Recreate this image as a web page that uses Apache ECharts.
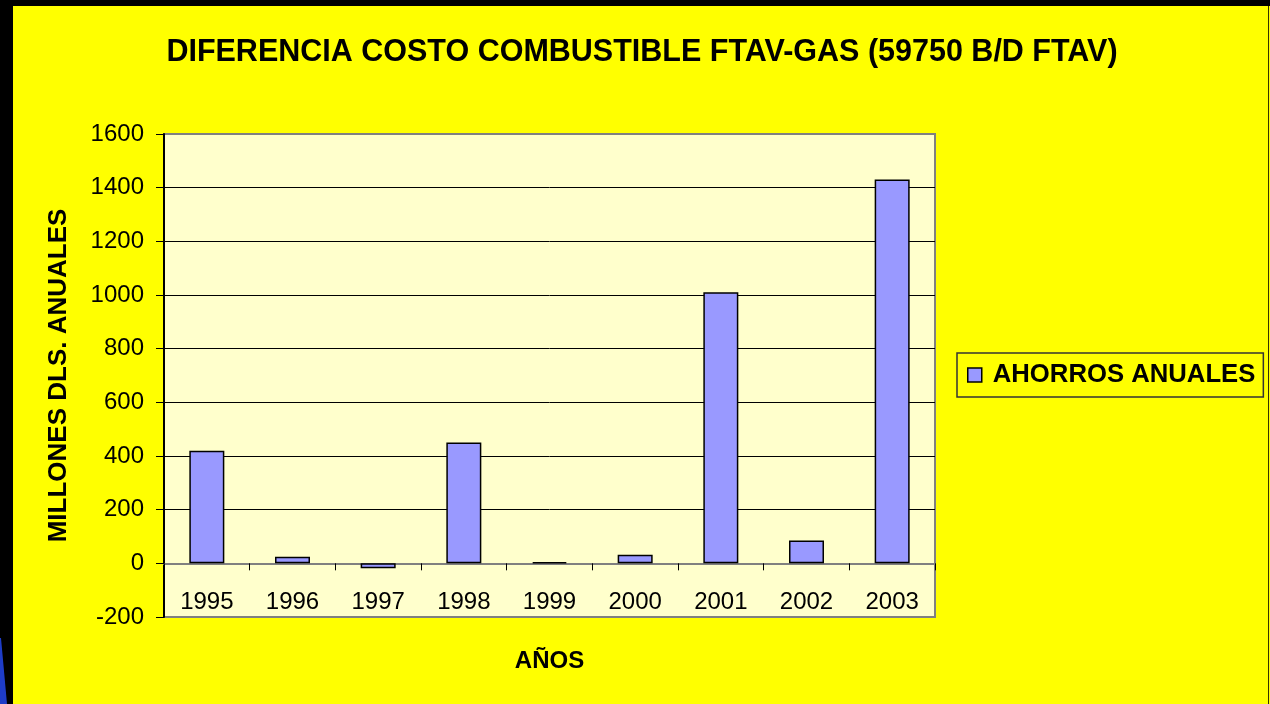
<!DOCTYPE html>
<html>
<head>
<meta charset="utf-8">
<script src="https://cdn.jsdelivr.net/npm/echarts@6/dist/echarts.min.js"></script>
<style>html,body{margin:0;padding:0;background:#000;}#c{width:1270px;height:704px;}</style>
</head>
<body>
<div id="c"></div>
<script>
const titleText = 'DIFERENCIA COSTO COMBUSTIBLE FTAV-GAS (59750 B/D FTAV)';
const years = ['1995', '1996', '1997', '1998', '1999', '2000', '2001', '2002', '2003'];
const ahorrosAnuales = [420, 25, -18, 450, 5, 32, 1010, 85, 1430];
const seriesName = 'AHORROS ANUALES';
const yAxisName = 'MILLONES DLS. ANUALES';
const xAxisName = 'AÑOS';

const FONT = "'Liberation Sans', Arial, sans-serif";
const chart = echarts.init(document.getElementById('c'), null, {renderer: 'canvas'});
chart.setOption({
  backgroundColor: '#000000',
  animation: false,
  graphic: [
    {type: 'rect', z: -10, shape: {x: 13, y: 6, width: 1257, height: 698}, style: {fill: '#FFFF00'}},
    {type: 'rect', z: -9, shape: {x: 1268, y: 6, width: 1, height: 698}, style: {fill: '#333300'}},
    {type: 'polygon', z: -9, shape: {points: [[0, 638], [1, 638], [7, 704], [0, 704]]}, style: {fill: '#1E3CC8'}}
  ],
  title: {
    text: titleText,
    left: 637,
    top: 32,
    textAlign: 'center',
    textStyle: {fontFamily: FONT, fontWeight: 'bold', fontSize: 30.5, color: '#000'}
  },
  legend: {
    data: [seriesName],
    left: 957,
    top: 353,
    orient: 'vertical',
    padding: [9, 8, 9, 10],
    borderColor: '#333',
    borderWidth: 1.5,
    icon: 'rect',
    itemWidth: 14,
    itemHeight: 14,
    itemStyle: {borderColor: '#000', borderWidth: 1.5},
    textStyle: {fontFamily: FONT, fontWeight: 'bold', fontSize: 25.7, color: '#000', lineHeight: 25, padding: [0, 0, 0, 6]}
  },
  grid: {
    left: 164, right: 335, top: 134, bottom: 87,
    containLabel: false,
    outerBoundsMode: 'none',
    show: true,
    backgroundColor: '#FFFFCC',
    borderColor: '#808080',
    borderWidth: 2
  },
  xAxis: {
    type: 'category',
    data: years,
    name: xAxisName,
    nameLocation: 'middle',
    nameGap: 32,
    nameTextStyle: {fontFamily: FONT, fontWeight: 'bold', fontSize: 24, color: '#000'},
    axisLine: {show: true, onZero: true, lineStyle: {color: '#808080', width: 2}},
    axisTick: {show: true, length: 7, lineStyle: {color: '#000', width: 1}},
    axisLabel: {fontFamily: FONT, fontSize: 24, color: '#000', margin: -27},
    splitLine: {show: false}
  },
  yAxis: {
    type: 'value',
    min: -200,
    max: 1600,
    interval: 200,
    name: yAxisName,
    nameLocation: 'middle',
    nameGap: 92,
    nameRotate: 90,
    nameTextStyle: {fontFamily: FONT, fontWeight: 'bold', fontSize: 26, color: '#000'},
    axisLine: {show: true, lineStyle: {color: '#000', width: 2}},
    axisTick: {show: true, length: 8, lineStyle: {color: '#000', width: 1}},
    axisLabel: {fontFamily: FONT, fontSize: 24, color: '#000', margin: 20, formatter: function (v) { return String(v); }},
    splitLine: {
      show: true,
      showMinLine: false,
      showMaxLine: false,
      lineStyle: {color: ['rgba(0,0,0,0)', '#000', '#000', '#000', '#000', '#000', '#000', '#000'], width: 1}
    }
  },
  series: [{
    name: seriesName,
    type: 'bar',
    data: ahorrosAnuales,
    barWidth: 35,
    itemStyle: {color: '#9999FF', borderColor: '#000', borderWidth: 1.5}
  }]
});
</script>
</body>
</html>
